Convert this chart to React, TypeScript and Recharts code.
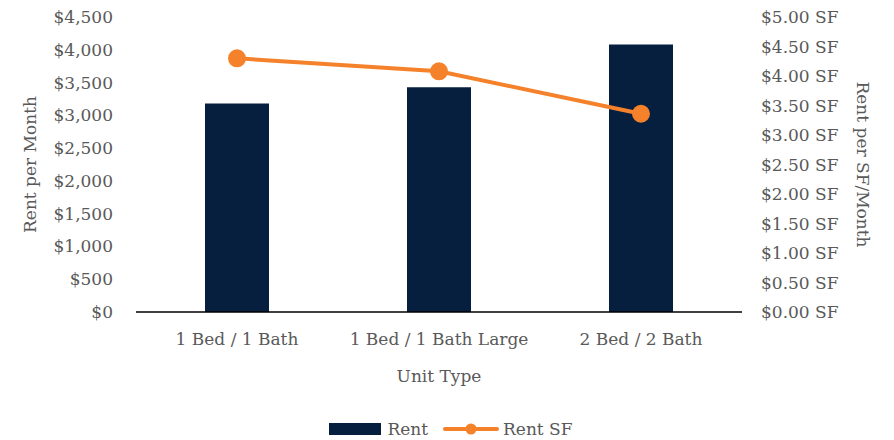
import { Bar, ComposedChart, Legend, Line, XAxis, YAxis } from "recharts";

const unitTypes = ["1 Bed / 1 Bath", "1 Bed / 1 Bath Large", "2 Bed / 2 Bath"];
const rent = [3180, 3430, 4080];
const rentSf = [4.3, 4.08, 3.36];
const rentTicks = [0, 500, 1000, 1500, 2000, 2500, 3000, 3500, 4000, 4500];
const rentSfTicks = [0, 0.5, 1, 1.5, 2, 2.5, 3, 3.5, 4, 4.5, 5];

const data = unitTypes.map((unit, i) => ({
  unit,
  Rent: rent[i],
  "Rent SF": rentSf[i],
}));

const NAVY = "#071F3F";
const ORANGE = "#F5822A";
const TEXT = "#595959";
const FONT = "'DejaVu Serif', serif";

const tickStyle = { fontSize: 17, fill: TEXT, fontFamily: FONT };

function LeftTitle(props: any) {
  const { viewBox } = props;
  const cx = 30;
  const cy = viewBox.y + viewBox.height / 2;
  return (
    <text
      x={cx}
      y={cy}
      transform={`rotate(-90, ${cx}, ${cy})`}
      textAnchor="middle"
      dominantBaseline="central"
      fontSize={17}
      fill={TEXT}
      fontFamily={FONT}
    >
      Rent per Month
    </text>
  );
}

function RightTitle(props: any) {
  const { viewBox } = props;
  const cx = 863;
  const cy = viewBox.y + viewBox.height / 2;
  return (
    <text
      x={cx}
      y={cy}
      transform={`rotate(90, ${cx}, ${cy})`}
      textAnchor="middle"
      dominantBaseline="central"
      fontSize={17}
      fill={TEXT}
      fontFamily={FONT}
    >
      Rent per SF/Month
    </text>
  );
}

function LegendContent(props: any) {
  const items = props.payload || [];
  return (
    <div
      style={{
        display: "flex",
        justifyContent: "center",
        alignItems: "center",
        height: 22,
        paddingLeft: 8,
        fontFamily: FONT,
        fontSize: 17,
        color: TEXT,
      }}
    >
      {items.map((item: any, i: number) => (
        <div
          key={item.value}
          style={{ display: "flex", alignItems: "center", marginLeft: i ? 15 : 0 }}
        >
          {item.type === "line" ? (
            <svg width={56} height={14} style={{ marginRight: 4 }}>
              <line x1={2} y1={7} x2={54} y2={7} stroke={ORANGE} strokeWidth={4} strokeLinecap="round" />
              <circle cx={28} cy={7} r={5.5} fill={ORANGE} />
            </svg>
          ) : (
            <div style={{ width: 52, height: 12, background: NAVY, marginRight: 6 }} />
          )}
          <span>{item.value}</span>
        </div>
      ))}
    </div>
  );
}

export default function App() {
  return (
    <div style={{ position: "absolute", left: 0, top: 0, background: "#fff" }}>
      <ComposedChart
        width={894}
        height={440}
        data={data}
        margin={{ top: 17, right: 0, bottom: 0, left: 0 }}
        style={{ fontFamily: FONT }}
      >
        <XAxis
          dataKey="unit"
          height={106}
          tick={tickStyle}
          tickLine={false}
          tickMargin={15}
          axisLine={{ stroke: "#000", strokeWidth: 1.5 }}
          label={{
            value: "Unit Type",
            position: "insideBottom",
            offset: 36,
            fontSize: 17,
            fill: TEXT,
            fontFamily: FONT,
          }}
        />
        <YAxis
          yAxisId="rent"
          width={136}
          domain={[0, 4500]}
          ticks={rentTicks}
          tick={tickStyle}
          tickLine={false}
          axisLine={false}
          tickMargin={17}
          tickFormatter={(v: number) => `$${v.toLocaleString("en-US")}`}
          label={<LeftTitle />}
        />
        <YAxis
          yAxisId="sf"
          orientation="right"
          width={152}
          domain={[0, 5]}
          ticks={rentSfTicks}
          tick={{ ...tickStyle, textAnchor: "start" }}
          tickLine={false}
          axisLine={false}
          tickMargin={13}
          tickFormatter={(v: number) => `$${v.toFixed(2)} SF`}
          label={<RightTitle />}
        />
        <Legend verticalAlign="bottom" height={22} content={<LegendContent />} />
        <Bar
          yAxisId="rent"
          dataKey="Rent"
          name="Rent"
          fill={NAVY}
          barSize={64}
          legendType="rect"
          isAnimationActive={false}
        />
        <Line
          yAxisId="sf"
          dataKey="Rent SF"
          name="Rent SF"
          stroke={ORANGE}
          strokeWidth={4}
          legendType="line"
          dot={{ r: 9, fill: ORANGE, stroke: ORANGE, strokeWidth: 0 }}
          activeDot={false}
          isAnimationActive={false}
        />
      </ComposedChart>
    </div>
  );
}
